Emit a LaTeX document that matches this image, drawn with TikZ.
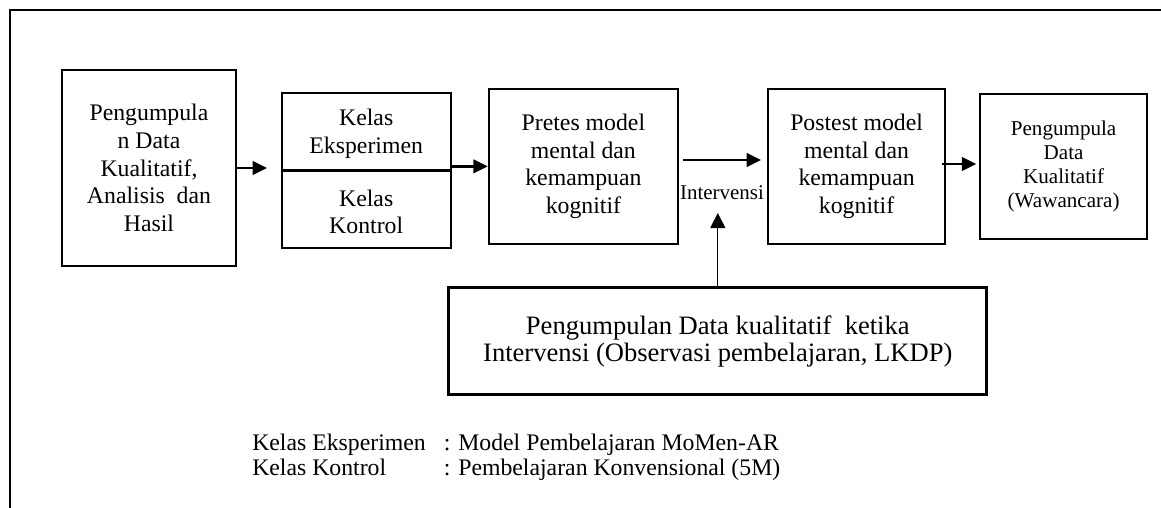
\documentclass[tikz,border=0pt]{standalone}
\usepackage{fontspec}
\setmainfont{Liberation Serif}
\usepackage{tikz}
\usetikzlibrary{arrows.meta, calc}

\begin{document}
\begin{tikzpicture}[node distance=5.43cm]
% Styles
\tikzstyle{stage} = [rectangle, draw=black, line width=1.6pt, text centered, align=center, inner sep=2pt, font=\fontsize{16.9}{19.7}\selectfont]
\tikzstyle{stagesmall} = [stage, font=\fontsize{15}{17}\selectfont]
\tikzstyle{stagewide} = [stage, line width=2pt, font=\fontsize{18.9}{18.6}\selectfont]
\tikzstyle{caption} = [align=center, font=\fontsize{16.9}{19.7}\selectfont]
\tikzstyle{arrow} = [line width=1.6pt, -{Triangle[length=0.36cm, width=0.34cm]}]
\tikzstyle{thinarrow} = [line width=0.8pt, -{Triangle[length=0.38cm, width=0.38cm]}]

\useasboundingbox (0,0) rectangle (29.025,-12.7);
\draw [line width=1.7pt] (0.25,-12.7) -- (0.25,-0.25) -- (29.025,-0.25);

\node (collect_data) [stage, minimum width=4.35cm, minimum height=4.9cm] at (3.725,-4.2) {Pengumpula\\n Data\\Kualitatif,\\Analisis~ dan\\Hasil};
\node (class_split) [stage, right of=collect_data, yshift=-0.06cm, minimum width=4.225cm, minimum height=3.875cm] {};
\node (pretest) [stage, right of=class_split, yshift=0.1cm, minimum width=4.725cm, minimum height=3.875cm] {Pretes model\\mental dan\\kemampuan\\kognitif};
\node (posttest) [stage, right of=pretest, xshift=1.4cm, minimum width=4.425cm, minimum height=3.875cm] {Postest model\\mental dan\\kemampuan\\kognitif};
\node (interview) [stagesmall, right of=posttest, xshift=-0.255cm, minimum width=4.175cm, minimum height=3.625cm] {Pengumpula\\Data\\Kualitatif\\(Wawancara)};
\node (observation) [stagewide, below of=pretest, node distance=4.375cm, xshift=3.36cm, minimum width=13.45cm, minimum height=2.675cm] {Pengumpulan Data kualitatif~ ketika\\Intervensi (Observasi pembelajaran, LKDP)};

% two classes in one box
\draw [line width=2.6pt] (class_split.west) -- (class_split.east);
\node (experiment) [caption, above of=class_split, node distance=0.92cm] {Kelas\\Eksperimen};
\node (control) [caption, below of=class_split, node distance=1.04cm] {Kelas\\Kontrol};

\node (intervention_label) [font=\fontsize{14.9}{17}\selectfont] at (18.05,-4.825) {Intervensi};

\coordinate [right of=collect_data, node distance=2.95cm] (gap_end);
\draw [arrow] (collect_data.east) -- (gap_end);
\draw [arrow] (class_split.east |- pretest.west) -- (pretest.west);
\draw [arrow, shorten <=0.1cm, shorten >=0.15cm] ([yshift=0.16cm]pretest.east) -- ([yshift=0.16cm]pretest.east -| posttest.west);
\draw [arrow, shorten >=0.07cm] ([xshift=-0.1cm, yshift=0.06cm]posttest.east) -- ([yshift=0.06cm]posttest.east -| interview.west);
\draw [thinarrow, shorten >=0.2cm] (observation.north) -- (observation.north |- intervention_label.south);

\node (legend) [anchor=base west, inner sep=0pt, font=\fontsize{16.9}{17.8}\selectfont] at (6.3,-11.27) {\begin{tabular}[t]{@{}l@{\hspace{0.45cm}}l@{}}
Kelas Eksperimen & : Model Pembelajaran MoMen-AR\\
Kelas Kontrol & : Pembelajaran Konvensional (5M)
\end{tabular}};

\end{tikzpicture}
\end{document}
